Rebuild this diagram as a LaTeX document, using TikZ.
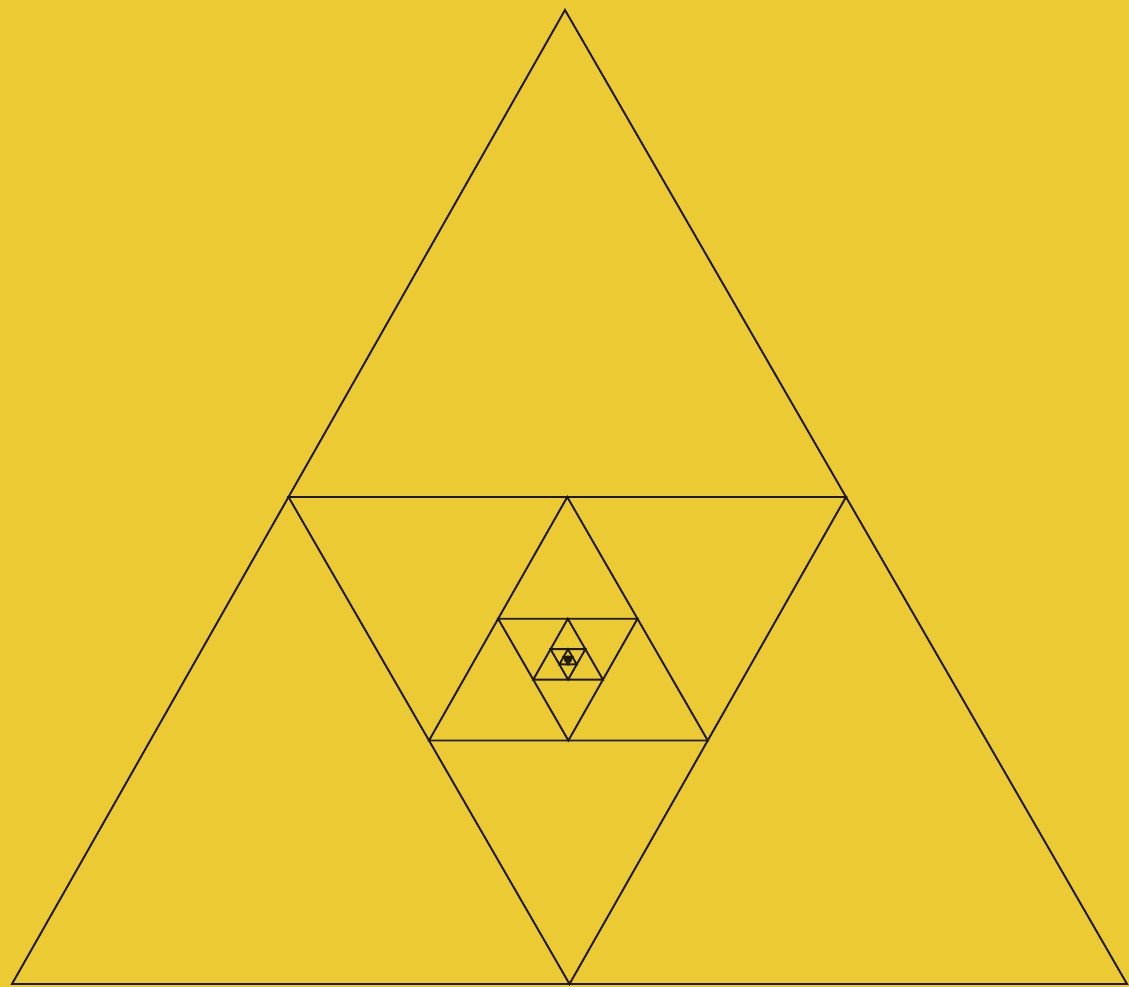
\documentclass[tikz,border=0pt]{standalone}
\usetikzlibrary{calc}
\definecolor{bg}{RGB}{236,202,52}
\definecolor{ink}{RGB}{30,25,10}
\tikzset{tri/.style={draw=ink,line width=1.1pt,line join=miter}}
\begin{document}
\begin{tikzpicture}[x=0.02cm,y=-0.02cm]
\fill[bg] (0,0) rectangle (1129,987);
\useasboundingbox (0,0) rectangle (1129,987);
\coordinate (A0) at (565,10);
\coordinate (B0) at (12,984);
\coordinate (C0) at (1127,984);
\draw[tri] (A0) -- (B0) -- (C0) -- cycle;
\foreach \i [remember=\i as \p (initially 0)] in {1,...,11} {
  \coordinate (A\i) at ($(A\p)!0.5!(B\p)$);
  \coordinate (B\i) at ($(B\p)!0.5!(C\p)$);
  \coordinate (C\i) at ($(C\p)!0.5!(A\p)$);
  \draw[tri] (A\i) -- (B\i) -- (C\i) -- cycle;
}
\end{tikzpicture}
\end{document}
